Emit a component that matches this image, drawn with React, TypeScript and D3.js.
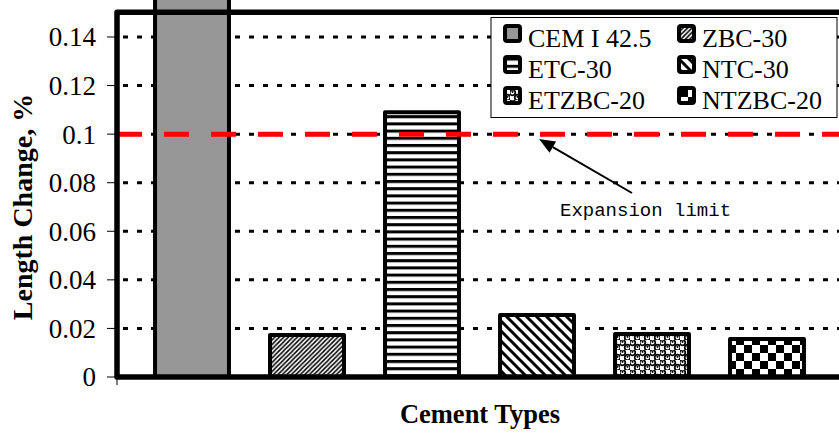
import React from "react";
import * as d3 from "d3";

const categories = ["CEM I 42.5", "ZBC-30", "ETC-30", "NTC-30", "ETZBC-20", "NTZBC-20"];
const values = [0.3, 0.0173, 0.109, 0.0255, 0.0177, 0.0156];
const patterns = ["solidGray", "pZBC", "pETC", "pNTC", "pETZBC", "pNTZBC"];
const yTicks = [0, 0.02, 0.04, 0.06, 0.08, 0.1, 0.12, 0.14];
const yTickLabels = ["0", "0.02", "0.04", "0.06", "0.08", "0.1", "0.12", "0.14"];
const limitValue = 0.1;
const limitLabel = "Expansion limit";
const yTitle = "Length Change, %";
const xTitle = "Cement Types";

const W = 839;
const H = 433;
const left = 117;
const bottom = 377;
const top = 12.7;

export default function App() {
  const y = d3.scaleLinear().domain([0, 0.15]).range([bottom, top]);
  const x = d3
    .scaleBand<string>()
    .domain(categories)
    .range([134.5, 824.5])
    .paddingInner(0.357)
    .paddingOuter(0.1785);
  const bw = x.bandwidth();
  const serif = "'Liberation Serif', 'Times New Roman', serif";

  const fillOf = (p: string) => (p === "solidGray" ? "#969696" : `url(#${p})`);

  const legendCols = [503, 677];
  const legendRows = [47, 78, 109];

  const ay = y(limitValue);
  const arrowFrom = [632, 193];
  const arrowTo = [539, 139];
  const ang = Math.atan2(arrowTo[1] - arrowFrom[1], arrowTo[0] - arrowFrom[0]);
  const hl = 16;
  const hw = 6.5;
  const bx = arrowTo[0] - hl * Math.cos(ang);
  const by = arrowTo[1] - hl * Math.sin(ang);
  const head = [
    [arrowTo[0], arrowTo[1]],
    [bx + hw * Math.sin(ang), by - hw * Math.cos(ang)],
    [bx - hw * Math.sin(ang), by + hw * Math.cos(ang)],
  ];

  return (
    <svg
      width={W}
      height={H}
      style={{ position: "absolute", left: 0, top: 0, display: "block", background: "#fff" }}
    >
      <defs>
        <pattern id="pZBC" patternUnits="userSpaceOnUse" width="4.5" height="4.5">
          <rect width="4.5" height="4.5" fill="#fff" />
          <path d="M-1,1 L1,-1 M0,4.5 L4.5,0 M3.5,5.5 L5.5,3.5" stroke="#000" strokeWidth="1.5" />
        </pattern>
        <pattern id="pETC" patternUnits="userSpaceOnUse" width="8" height="7.2">
          <rect width="8" height="7.2" fill="#fff" />
          <rect y="0" width="8" height="3" fill="#000" />
        </pattern>
        <pattern id="pNTC" patternUnits="userSpaceOnUse" width="10" height="10">
          <rect width="10" height="10" fill="#fff" />
          <path d="M-1,-1 L11,11 M-6,4 L6,16 M4,-6 L16,6" stroke="#000" strokeWidth="3" />
        </pattern>
        <pattern id="pETZBC" patternUnits="userSpaceOnUse" width="10" height="10">
          <rect width="10" height="10" fill="#fff" />
          <circle cx="2.5" cy="2.5" r="2.8" fill="none" stroke="#000" strokeWidth="1.7" />
          <circle cx="7.5" cy="7.5" r="2.8" fill="none" stroke="#000" strokeWidth="1.7" />
          <circle cx="2.5" cy="1.8" r="1.1" fill="#000" />
          <circle cx="7.5" cy="6.8" r="1.1" fill="#000" />
        </pattern>
        <pattern id="pNTZBC" patternUnits="userSpaceOnUse" width="16" height="16" x="0" y="1">
          <rect width="16" height="16" fill="#fff" />
          <rect width="8" height="8" fill="#000" />
          <rect x="8" y="8" width="8" height="8" fill="#000" />
        </pattern>
      </defs>

      {/* gridlines */}
      {yTicks
        .filter((t) => t > 0)
        .map((t) => (
          <line
            key={t}
            x1={left}
            x2={W}
            y1={y(t)}
            y2={y(t)}
            stroke="#000"
            strokeWidth={3}
            strokeDasharray="5 9"
            strokeDashoffset={-6}
          />
        ))}

      {/* bars */}
      {categories.map((c, i) => (
        <rect
          key={c}
          x={x(c)}
          y={y(values[i])}
          width={bw}
          height={bottom - y(values[i])}
          fill={fillOf(patterns[i])}
          stroke="#000"
          strokeWidth={4}
          strokeLinejoin="round"
        />
      ))}

      {/* limit line */}
      <line
        x1={left}
        x2={W}
        y1={ay}
        y2={ay}
        stroke="#ff0000"
        strokeWidth={5}
        strokeDasharray="25 22"
      />

      {/* frame */}
      <path
        d={`M${W},${top - 0.5} H${left} V${bottom} H${W}`}
        fill="none"
        stroke="#000"
        strokeWidth={5.5}
        strokeLinejoin="round"
      />

      {/* y ticks */}
      {yTicks.map((t, i) => (
        <g key={t}>
          <line x1={107} x2={left} y1={y(t)} y2={y(t)} stroke="#000" strokeWidth={1} />
          <text
            x={96}
            y={y(t)}
            dy="0.35em"
            textAnchor="end"
            fontFamily={serif}
            fontSize={27}
          >
            {yTickLabels[i]}
          </text>
        </g>
      ))}
      <line x1={left} x2={left} y1={bottom} y2={bottom + 8} stroke="#000" strokeWidth={1} />

      {/* axis titles */}
      <text
        transform={`translate(32,207) rotate(-90)`}
        textAnchor="middle"
        fontFamily={serif}
        fontWeight="bold"
        fontSize={28}
      >
        {yTitle}
      </text>
      <text x={480} y={423} textAnchor="middle" fontFamily={serif} fontWeight="bold" fontSize={26.5}>
        {xTitle}
      </text>

      {/* legend */}
      <rect x={491} y={17.5} width={346} height={100} fill="#fff" stroke="#000" strokeWidth={1} />
      {categories.map((c, i) => {
        const col = i % 2;
        const row = Math.floor(i / 2);
        const lx = legendCols[col];
        const ly = legendRows[row];
        return (
          <g key={c}>
            <rect
              x={lx + 2}
              y={ly - 21}
              width={15}
              height={15}
              rx={2}
              fill={fillOf(patterns[i])}
              stroke="#000"
              strokeWidth={4}
            />
            <text x={lx + 25} y={ly} fontFamily={serif} fontSize={26}>
              {c}
            </text>
          </g>
        );
      })}

      {/* annotation */}
      <line x1={arrowFrom[0]} y1={arrowFrom[1]} x2={bx} y2={by} stroke="#000" strokeWidth={2} />
      <polygon points={head.map((p) => p.join(",")).join(" ")} fill="#000" />
      <text x={560} y={216} fontFamily="'Liberation Mono', 'Courier New', monospace" fontSize={19}>
        {limitLabel}
      </text>
    </svg>
  );
}
